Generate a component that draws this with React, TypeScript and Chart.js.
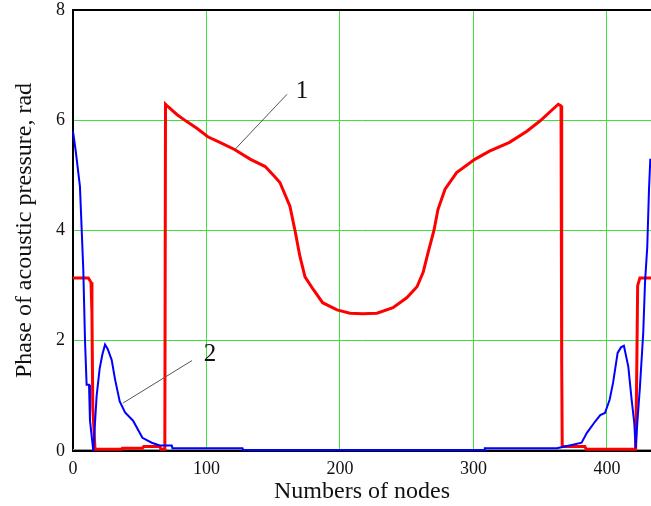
import { useEffect, useRef } from "react";
import { Chart, registerables } from "chart.js";

Chart.register(...registerables);

// Axis ticks
const xTicks = [0, 100, 200, 300, 400];
const yTicks = [0, 2, 4, 6, 8];
const xMin = 0;
const xMax = 433;
const yMin = 0;
const yMax = 8;

// Series 1 (red)
const redX = [0, 11.5, 13.5, 14.2, 14.8, 16.5, 36.5, 37, 52, 53, 65, 66, 68.8, 69.3, 71, 78, 85, 93, 101, 110, 121, 133, 144, 151, 155, 162.5, 166.3, 170, 173.8, 180, 187, 197.8, 207.5, 217, 227.7, 239.7, 250, 257.7, 262.3, 266, 270.4, 273.4, 278.7, 287.4, 301, 312, 327, 340, 350, 363.5, 365.6, 366.1, 366.5, 383.5, 384.5, 421.5, 422.2, 423, 424.7, 433];
const redY = [3.14, 3.14, 3.06, 2.5, 0.8, 0.03, 0.03, 0.05, 0.05, 0.08, 0.08, 0.03, 0.03, 6.29, 6.25, 6.1, 5.98, 5.85, 5.7, 5.6, 5.47, 5.29, 5.16, 4.98, 4.87, 4.44, 4.0, 3.53, 3.16, 2.93, 2.69, 2.56, 2.5, 2.49, 2.5, 2.6, 2.78, 2.98, 3.24, 3.6, 4.0, 4.38, 4.75, 5.05, 5.29, 5.44, 5.6, 5.8, 5.99, 6.29, 6.26, 1.6, 0.08, 0.08, 0.03, 0.03, 1.16, 3.0, 3.14, 3.14];

// Series 2 (blue)
const blueX = [0, 2, 5.2, 7.7, 9, 10.2, 12, 12.7, 15.2, 17.7, 20, 22, 24, 26, 29, 31.5, 35, 39, 45, 52, 59, 65, 74, 74.5, 127, 127.5, 308, 308.5, 362.5, 372, 381, 385, 391, 395, 398.5, 402, 404.6, 408, 410.5, 412.7, 416, 418.5, 420.5, 421.5, 423, 424.7, 427.2, 428.5, 430.2, 431.5, 432.5];
const blueY = [5.8, 5.45, 4.8, 3.3, 2.0, 1.2, 1.2, 0.56, 0.0, 1.0, 1.5, 1.75, 1.93, 1.85, 1.65, 1.3, 0.9, 0.7, 0.55, 0.24, 0.15, 0.1, 0.1, 0.05, 0.05, 0.02, 0.02, 0.05, 0.05, 0.1, 0.15, 0.33, 0.53, 0.65, 0.69, 0.93, 1.24, 1.78, 1.88, 1.91, 1.53, 0.93, 0.5, 0.05, 0.6, 1.16, 2.15, 3.05, 3.7, 4.75, 5.3];

// Curve labels with leader lines (data coordinates)
const labelTexts = ["1", "2"];
const labelX = [171.5, 102.6];
const labelY = [6.53, 1.75];
const leaderFromX = [160.3, 89.1];
const leaderFromY = [6.47, 1.64];
const leaderToX = [121.3, 37.5];
const leaderToY = [5.47, 0.87];

const SERIF = "'Liberation Serif', 'Times New Roman', serif";
const GRID_GREEN = "#3ee03e";

const framePlugin = {
  id: "frame",
  beforeDatasetsDraw(chart: any) {
    const { ctx, chartArea } = chart;
    ctx.save();
    ctx.strokeStyle = "#000";
    ctx.lineWidth = 2;
    ctx.beginPath();
    ctx.moveTo(chartArea.left - 1, chartArea.top);
    ctx.lineTo(chartArea.right, chartArea.top);
    ctx.stroke();
    ctx.strokeStyle = "#9a9a9a";
    ctx.lineWidth = 1;
    ctx.beginPath();
    ctx.moveTo(chartArea.left, chartArea.bottom - 1.5);
    ctx.lineTo(chartArea.right, chartArea.bottom - 1.5);
    ctx.stroke();
    ctx.restore();
  },
};

const annotationPlugin = {
  id: "curveLabels",
  afterDatasetsDraw(chart: any) {
    const { ctx } = chart;
    const xs = chart.scales.x;
    const ys = chart.scales.y;
    ctx.save();
    ctx.strokeStyle = "#555";
    ctx.lineWidth = 1;
    for (let i = 0; i < labelTexts.length; i++) {
      ctx.beginPath();
      ctx.moveTo(xs.getPixelForValue(leaderFromX[i]), ys.getPixelForValue(leaderFromY[i]));
      ctx.lineTo(xs.getPixelForValue(leaderToX[i]), ys.getPixelForValue(leaderToY[i]));
      ctx.stroke();
    }
    ctx.fillStyle = "#111";
    ctx.font = `25px ${SERIF}`;
    ctx.textAlign = "center";
    ctx.textBaseline = "middle";
    for (let i = 0; i < labelTexts.length; i++) {
      ctx.fillText(labelTexts[i], xs.getPixelForValue(labelX[i]), ys.getPixelForValue(labelY[i]));
    }
    ctx.restore();
  },
};

export default function App() {
  const ref = useRef<HTMLCanvasElement>(null);
  useEffect(() => {
    document.body.style.margin = "0";
    const blueData = blueX.map((x, i) => ({ x, y: blueY[i] }));
    const redData = redX.map((x, i) => ({ x, y: redY[i] }));
    const chart = new Chart(ref.current!, {
      type: "line",
      data: {
        datasets: [
          {
            label: "2",
            data: blueData,
            borderColor: "#0000ff",
            borderWidth: 2,
            pointRadius: 0,
            tension: 0,
            fill: false,
            clip: 4,
          } as any,
          {
            label: "1",
            data: redData,
            borderColor: "#ff0000",
            borderWidth: 3,
            pointRadius: 0,
            tension: 0,
            fill: false,
            clip: 4,
          } as any,
        ],
      },
      options: {
        animation: false,
        responsive: false,
        devicePixelRatio: 1,
        layout: { padding: { top: 10, right: 0, left: 0, bottom: 0 } },
        plugins: { legend: { display: false }, tooltip: { enabled: false } },
        scales: {
          x: {
            type: "linear",
            min: xMin,
            max: xMax,
            afterBuildTicks: (s: any) => {
              s.ticks = xTicks.map((v) => ({ value: v }));
            },
            afterFit: (s: any) => {
              s.height = 55;
              s.paddingLeft = 0;
              s.paddingRight = 0;
            },
            grid: {
              color: (c: any) => (c.tick && c.tick.value === 0 ? "rgba(0,0,0,0)" : GRID_GREEN),
              lineWidth: 1,
              drawTicks: false,
            },
            border: { color: "#000", width: 2 },
            ticks: {
              padding: 7,
              color: "#111",
              font: { family: SERIF, size: 18 },
              maxRotation: 0,
            },
            title: {
              display: true,
              text: "Numbers of nodes",
              color: "#111",
              font: { family: SERIF, size: 24 },
              padding: { top: 0, bottom: 0 },
            },
          },
          y: {
            type: "linear",
            min: yMin,
            max: yMax,
            afterBuildTicks: (s: any) => {
              s.ticks = yTicks.map((v) => ({ value: v }));
            },
            afterFit: (s: any) => {
              s.width = 73;
              s.paddingTop = 0;
              s.paddingBottom = 0;
            },
            grid: {
              color: (c: any) =>
                c.tick && (c.tick.value === 0 || c.tick.value === 8) ? "rgba(0,0,0,0)" : GRID_GREEN,
              lineWidth: 1,
              drawTicks: false,
            },
            border: { color: "#000", width: 2 },
            ticks: {
              padding: 8,
              color: "#111",
              font: { family: SERIF, size: 18 },
            },
            title: {
              display: true,
              text: "Phase of acoustic pressure, rad",
              color: "#111",
              font: { family: SERIF, size: 24 },
              padding: { top: 10, bottom: 0 },
            },
          },
        },
      },
      plugins: [framePlugin, annotationPlugin],
    });
    return () => chart.destroy();
  }, []);
  return (
    <div style={{ width: 651, height: 506, position: "relative" }}>
      <canvas ref={ref} width={651} height={506} style={{ display: "block" }} />
    </div>
  );
}
